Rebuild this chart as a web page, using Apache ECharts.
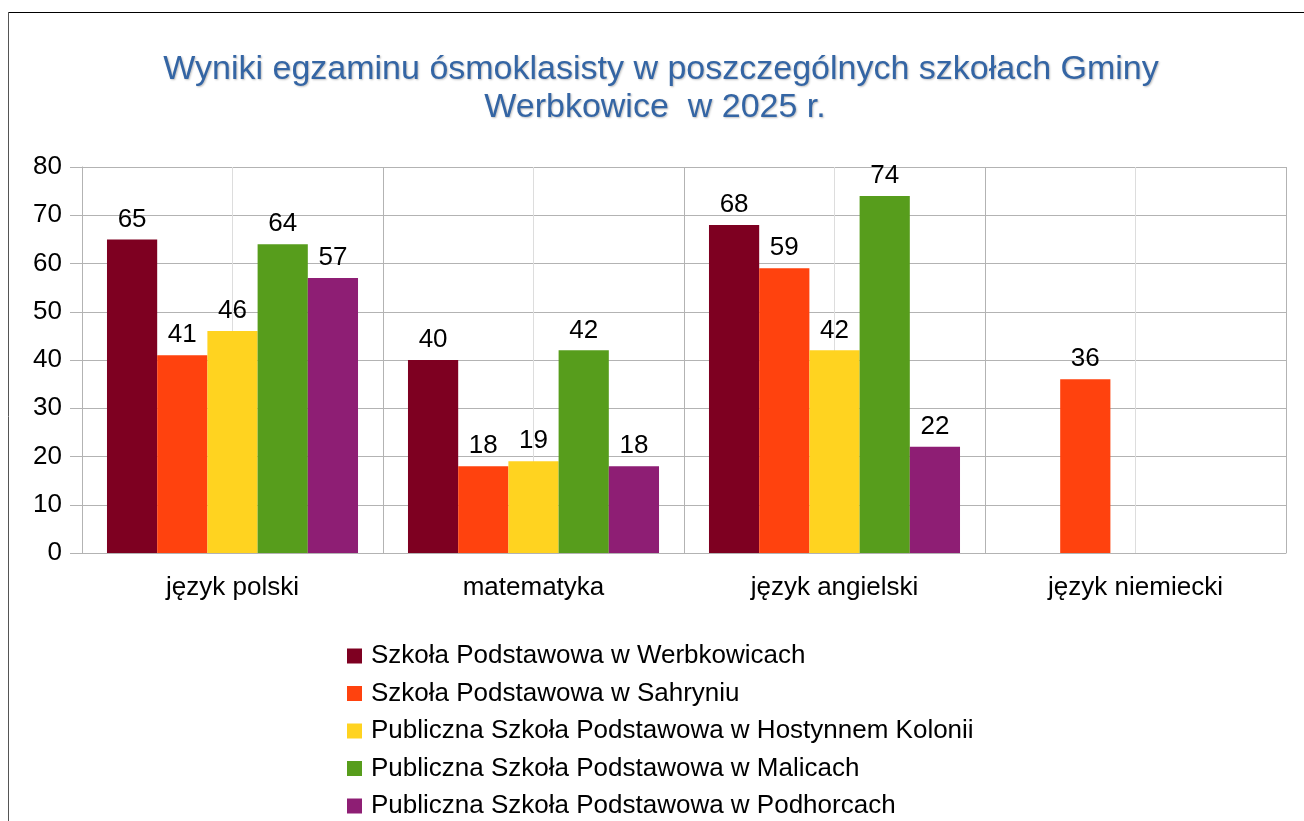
<!DOCTYPE html>
<html lang="pl">
<head>
    <meta charset="UTF-8">
    <title>Wyniki egzaminu ósmoklasisty</title>
    <script src="https://cdn.jsdelivr.net/npm/echarts@6/dist/echarts.min.js"></script>
    <style>
        html, body { margin: 0; padding: 0; background: #fff; }
        #container { width: 1304px; height: 821px; }
    </style>
</head>
<body>
<div id="container"></div>
<script>
    // dane z wykresu
    var przedmioty = ['język polski', 'matematyka', 'język angielski', 'język niemiecki'];
    var szkoly = [
        'Szkoła Podstawowa w Werbkowicach',
        'Szkoła Podstawowa w Sahryniu',
        'Publiczna Szkoła Podstawowa w Hostynnem Kolonii',
        'Publiczna Szkoła Podstawowa w Malicach',
        'Publiczna Szkoła Podstawowa w Podhorcach'
    ];
    var werbkowice = [65, 40, 68, null];
    var sahryn = [41, 18, 59, 36];
    var hostynne = [46, 19, 42, null];
    var malice = [64, 42, 74, null];
    var podhorce = [57, 18, 22, null];
    var kolory = ['#7e0021', '#ff420e', '#ffd320', '#579d1c', '#8e1e74'];

    var font = 'Liberation Sans, Arial, sans-serif';
    var chart = echarts.init(document.getElementById('container'));

    function seria(nazwa, dane) {
        return {
            name: nazwa,
            type: 'bar',
            data: dane,
            barGap: '0%',
            barCategoryGap: '16.6%',
            label: {
                show: true,
                position: 'top',
                distance: 7,
                color: '#000',
                fontSize: 26,
                fontFamily: font
            }
        };
    }

    var tytulStyl = {
        color: '#3465a4',
        fontSize: 34,
        fontWeight: 'normal',
        fontFamily: font,
        lineHeight: 38,
        textShadowColor: 'rgba(0,0,0,0.25)',
        textShadowBlur: 2,
        textShadowOffsetX: 1,
        textShadowOffsetY: 1
    };

    var option = {
        color: kolory,
        animation: false,
        title: [{
            text: 'Wyniki egzaminu ósmoklasisty w poszczególnych szkołach Gminy',
            left: 656,
            top: 46,
            textAlign: 'center',
            textStyle: tytulStyl
        }, {
            text: 'Werbkowice  w 2025 r.',
            left: 650,
            top: 84,
            textAlign: 'center',
            textStyle: tytulStyl
        }],
        legend: {
            orient: 'vertical',
            left: 347,
            top: 643,
            height: 178,
            padding: 0,
            itemWidth: 15,
            itemHeight: 15,
            itemGap: 11.5,
            icon: 'rect',
            data: szkoly,
            textStyle: {
                color: '#000',
                fontSize: 26,
                fontFamily: font,
                padding: [0, 0, 0, 4]
            }
        },
        grid: {
            left: 82,
            right: 18,
            top: 167,
            bottom: 268
        },
        xAxis: [{
            type: 'category',
            data: przedmioty,
            axisLine: { lineStyle: { color: '#b3b3b3' } },
            axisTick: { length: 10, lineStyle: { color: '#b3b3b3' } },
            splitLine: { show: false },
            axisLabel: { color: '#000', fontSize: 26, fontFamily: font, margin: 22 }
        }, {
            // pomocnicza oś tylko dla pionowych linii siatki
            type: 'value',
            min: 0,
            max: 8,
            interval: 1,
            show: true,
            axisLine: { show: false },
            axisTick: { show: false },
            axisLabel: { show: false },
            splitLine: { show: true, lineStyle: { color: ['#b3b3b3', '#dddddd'] } }
        }],
        yAxis: {
            type: 'value',
            min: 0,
            max: 80,
            interval: 10,
            axisLine: { show: true, lineStyle: { color: '#b3b3b3' } },
            axisTick: { show: true, length: 12, lineStyle: { color: '#b3b3b3' } },
            splitLine: { lineStyle: { color: '#b3b3b3' } },
            axisLabel: { color: '#000', fontSize: 26, fontFamily: font, margin: 20 }
        },
        graphic: [{
            type: 'line',
            shape: { x1: 8, y1: 12.5, x2: 1304, y2: 12.5 },
            style: { stroke: '#000', lineWidth: 1 }
        }, {
            type: 'line',
            shape: { x1: 8.5, y1: 12, x2: 8.5, y2: 821 },
            style: { stroke: '#555', lineWidth: 1 }
        }],
        series: [
            seria(szkoly[0], werbkowice),
            seria(szkoly[1], sahryn),
            seria(szkoly[2], hostynne),
            seria(szkoly[3], malice),
            seria(szkoly[4], podhorce)
        ]
    };
    chart.setOption(option);
</script>
</body>
</html>
